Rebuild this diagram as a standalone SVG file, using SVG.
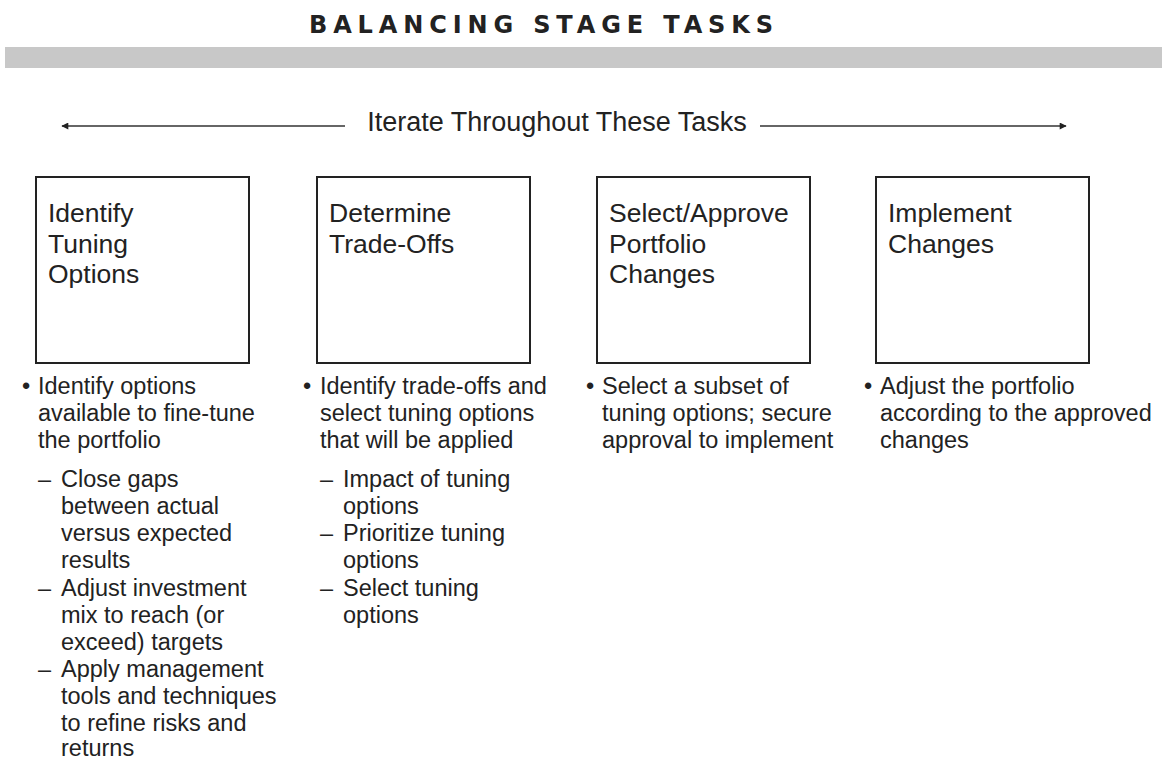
<svg xmlns="http://www.w3.org/2000/svg" width="1162" height="760" viewBox="0 0 1162 760">
<defs>
<style>
.t{font-family:"Liberation Sans",Arial,sans-serif;fill:#222;}
.title{font-family:"DejaVu Sans","Liberation Sans",sans-serif;font-weight:bold;font-size:24px;fill:#222;}
.it{font-size:27px;}
.bt{font-size:26.5px;}
.bl{font-size:23.5px;}
.box{fill:#fff;stroke:#222;stroke-width:2;}
.conn{stroke:#333;stroke-width:1.6;fill:none;}
</style>
<marker id="ah" viewBox="0 0 10 10" refX="9" refY="5" markerWidth="8" markerHeight="7" orient="auto-start-reverse" markerUnits="userSpaceOnUse">
<path d="M0,0 L10,5 L0,10 z" fill="#222"/>
</marker>
</defs>
<rect width="1162" height="760" fill="#fff"/>
<text class="title" x="309" y="33" textLength="464" lengthAdjust="spacing">BALANCING STAGE TASKS</text>
<rect x="5" y="47" width="1157" height="21" fill="#c8c8c8"/>
<g id="connectors">
<line class="conn" x1="345" y1="126" x2="62" y2="126" marker-end="url(#ah)"/>
<line class="conn" x1="760" y1="126" x2="1066" y2="126" marker-end="url(#ah)"/>
</g>
<text class="t it" x="557" y="131" text-anchor="middle">Iterate Throughout These Tasks</text>
<g id="node1">
<rect class="box" x="36" y="177" width="213" height="186"/>
<text class="t bt" x="48" y="222">Identify</text>
<text class="t bt" x="48" y="252.5">Tuning</text>
<text class="t bt" x="48" y="283">Options</text>
<text class="t bl" x="22" y="394">•</text>
<text class="t bl" x="38" y="394">Identify options</text>
<text class="t bl" x="38" y="421">available to fine-tune</text>
<text class="t bl" x="38" y="448">the portfolio</text>
<text class="t bl" x="38" y="487">–</text>
<text class="t bl" x="61" y="487">Close gaps</text>
<text class="t bl" x="61" y="514">between actual</text>
<text class="t bl" x="61" y="541">versus expected</text>
<text class="t bl" x="61" y="568">results</text>
<text class="t bl" x="38" y="596">–</text>
<text class="t bl" x="61" y="596">Adjust investment</text>
<text class="t bl" x="61" y="623">mix to reach (or</text>
<text class="t bl" x="61" y="650">exceed) targets</text>
<text class="t bl" x="38" y="677">–</text>
<text class="t bl" x="61" y="677">Apply management</text>
<text class="t bl" x="61" y="704">tools and techniques</text>
<text class="t bl" x="61" y="731">to refine risks and</text>
<text class="t bl" x="61" y="756">returns</text>
</g>
<g id="node2">
<rect class="box" x="317" y="177" width="213" height="186"/>
<text class="t bt" x="329" y="222">Determine</text>
<text class="t bt" x="329" y="252.5">Trade-Offs</text>
<text class="t bl" x="303" y="394">•</text>
<text class="t bl" x="320" y="394">Identify trade-offs and</text>
<text class="t bl" x="320" y="421">select tuning options</text>
<text class="t bl" x="320" y="448">that will be applied</text>
<text class="t bl" x="320" y="487">–</text>
<text class="t bl" x="343" y="487">Impact of tuning</text>
<text class="t bl" x="343" y="514">options</text>
<text class="t bl" x="320" y="541">–</text>
<text class="t bl" x="343" y="541">Prioritize tuning</text>
<text class="t bl" x="343" y="568">options</text>
<text class="t bl" x="320" y="596">–</text>
<text class="t bl" x="343" y="596">Select tuning</text>
<text class="t bl" x="343" y="623">options</text>
</g>
<g id="node3">
<rect class="box" x="597" y="177" width="213" height="186"/>
<text class="t bt" x="609" y="222">Select/Approve</text>
<text class="t bt" x="609" y="252.5">Portfolio</text>
<text class="t bt" x="609" y="283">Changes</text>
<text class="t bl" x="586" y="394">•</text>
<text class="t bl" x="602" y="394">Select a subset of</text>
<text class="t bl" x="602" y="421">tuning options; secure</text>
<text class="t bl" x="602" y="448">approval to implement</text>
</g>
<g id="node4">
<rect class="box" x="876" y="177" width="213" height="186"/>
<text class="t bt" x="888" y="222">Implement</text>
<text class="t bt" x="888" y="252.5">Changes</text>
<text class="t bl" x="864" y="394">•</text>
<text class="t bl" x="880" y="394">Adjust the portfolio</text>
<text class="t bl" x="880" y="421">according to the approved</text>
<text class="t bl" x="880" y="448">changes</text>
</g>
</svg>
